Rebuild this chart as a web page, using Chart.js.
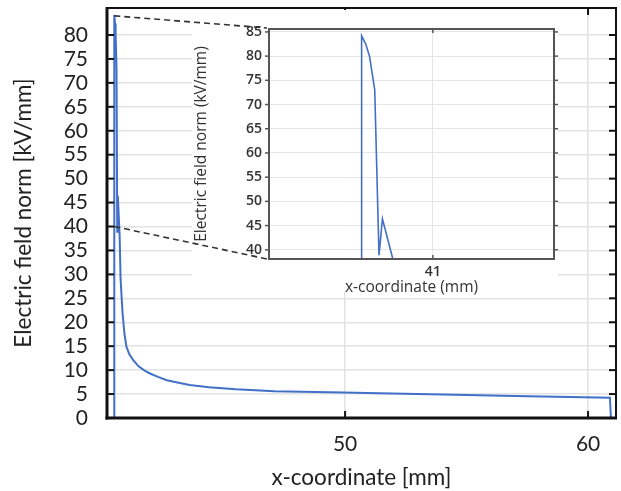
<!DOCTYPE html>
<html>
<head>
<meta charset="utf-8">
<script src="https://cdn.jsdelivr.net/npm/chart.js@4/dist/chart.umd.min.js"></script>
<style>
    html, body { margin: 0; padding: 0; background: #fff; }
    #wrap { position: relative; width: 621px; height: 491px; }
    #wrap canvas { position: absolute; left: 0; top: 0; }
</style>
</head>
<body>
<div id="wrap">
    <canvas id="mainChart" width="621" height="491"></canvas>
    <canvas id="insetChart" width="621" height="491"></canvas>
</div>
<script>
// x-coordinate [mm] and electric field norm [kV/mm]
const xCoord = [40.5, 40.5, 40.53, 40.556, 40.592, 40.622, 40.646, 40.72, 40.76, 40.84, 40.92, 41.0,
    41.12, 41.28, 41.5, 41.75, 41.97, 42.3, 42.66, 43.2, 43.6, 44.4, 45.5, 47.1, 49.9, 51.4,
    54.0, 57.0, 60.9, 60.94];
const fieldNorm = [0, 84.2, 82.4, 79.9, 73.0, 38.9, 46.4, 38.0, 29.0, 21.9, 17.5, 14.9,
    13.3, 12.1, 10.8, 9.9, 9.3, 8.6, 7.9, 7.3, 6.9, 6.4, 6.0, 5.6, 5.35, 5.15,
    4.9, 4.6, 4.25, 0];

const mainXTicks = [50, 60];
const mainYTicks = [0, 5, 10, 15, 20, 25, 30, 35, 40, 45, 50, 55, 60, 65, 70, 75, 80];
const insetXTicks = [41];
const insetYTicks = [40, 45, 50, 55, 60, 65, 70, 75, 80, 85];

// zoom window shown in the inset
const zoomFrom = { x: 40.5, yTop: 84, yBottom: 40 };

const points = xCoord.map((x, i) => ({ x: x, y: fieldNorm[i] }));
const lineBlue = "#4270c8";

function line(ctx, x1, y1, x2, y2) {
    ctx.beginPath();
    ctx.moveTo(x1, y1);
    ctx.lineTo(x2, y2);
    ctx.stroke();
}

const mainFrame = {
    id: "mainFrame",
    afterDraw(chart) {
        const { ctx, chartArea: a, scales: { x, y } } = chart;
        ctx.save();
        ctx.strokeStyle = "#111";
        ctx.lineWidth = 2;
        y.ticks.forEach(t => {
            const py = y.getPixelForValue(t.value);
            line(ctx, a.left, py, a.left + 7, py);
            line(ctx, a.right, py, a.right - 7, py);
        });
        x.ticks.forEach(t => {
            const px = x.getPixelForValue(t.value);
            line(ctx, px, a.bottom, px, a.bottom - 7);
            line(ctx, px, a.top, px, a.top + 7);
        });
        ctx.strokeRect(a.left, a.top, a.right - a.left, a.bottom - a.top);
        ctx.lineWidth = 3;
        line(ctx, a.left, a.top - 1, a.left, a.bottom + 1.5);
        line(ctx, a.left - 1.5, a.bottom, a.right + 1, a.bottom);
        ctx.restore();
    }
};

const mainTickFont = { family: "Lato", size: 21, lineHeight: 0.75 };
const mainTitleFont = { family: "Lato", size: 22.5 };
const clear = "rgba(0,0,0,0)";

const mainChart = new Chart(document.getElementById("mainChart"), {
    type: "line",
    data: {
        datasets: [{
            data: points,
            borderColor: lineBlue,
            borderWidth: 2,
            pointRadius: 0,
            tension: 0
        }]
    },
    options: {
        responsive: false,
        animation: false,
        layout: { padding: { left: 0, top: 8, right: 5, bottom: 0 } },
        plugins: { legend: { display: false }, tooltip: { enabled: false } },
        scales: {
            x: {
                type: "linear",
                min: 40.2,
                max: 61.15,
                afterBuildTicks: s => { s.ticks = mainXTicks.map(v => ({ value: v })); },
                afterFit: s => { s.height = 73; },
                grid: { color: "#e2e2e2", lineWidth: 1.5, drawTicks: true, tickLength: 18, tickColor: clear },
                border: { display: false },
                ticks: { padding: 0, font: mainTickFont, color: "#222", autoSkip: false, maxRotation: 0 },
                title: {
                    display: true,
                    text: "x-coordinate [mm]",
                    font: mainTitleFont,
                    color: "#222",
                    padding: { top: 0, bottom: 0 }
                }
            },
            y: {
                min: 0,
                max: 85.64,
                afterBuildTicks: s => { s.ticks = mainYTicks.map(v => ({ value: v })); },
                afterFit: s => { s.width = 107; },
                grid: { color: "#e2e2e2", lineWidth: 1.5, drawTicks: true, tickLength: 19, tickColor: clear },
                border: { display: false },
                ticks: { padding: 0, font: mainTickFont, color: "#222", autoSkip: false },
                title: {
                    display: true,
                    text: "Electric field norm [kV/mm]",
                    font: mainTitleFont,
                    color: "#222",
                    padding: { top: 10, bottom: 0 }
                }
            }
        }
    },
    plugins: [mainFrame]
});

const insetFrame = {
    id: "insetFrame",
    beforeDraw(chart) {
        const { ctx, chartArea: a } = chart;
        ctx.save();
        ctx.fillStyle = "#fff";
        ctx.fillRect(a.left - 77, 10, a.right - a.left + 81, a.bottom + 33 - 10);
        ctx.restore();
    },
    afterDraw(chart) {
        const { ctx, chartArea: a, scales: { x, y } } = chart;
        ctx.save();
        ctx.strokeStyle = "#555";
        ctx.lineWidth = 1.5;
        y.ticks.forEach(t => {
            const py = y.getPixelForValue(t.value);
            line(ctx, a.left - 4, py, a.left, py);
            line(ctx, a.right, py, a.right + 4, py);
        });
        x.ticks.forEach(t => {
            const px = x.getPixelForValue(t.value);
            line(ctx, px, a.bottom, px, a.bottom - 4);
            line(ctx, px, a.top, px, a.top + 4);
        });
        ctx.lineWidth = 2;
        ctx.strokeRect(a.left, a.top, a.right - a.left, a.bottom - a.top);

        // dashed connectors from the zoomed spot in the main plot
        const mx = mainChart.scales.x.getPixelForValue(zoomFrom.x);
        const myTop = mainChart.scales.y.getPixelForValue(zoomFrom.yTop);
        const myBottom = mainChart.scales.y.getPixelForValue(zoomFrom.yBottom);
        ctx.strokeStyle = "#333";
        ctx.lineWidth = 1.6;
        ctx.setLineDash([6, 4]);
        line(ctx, mx, myTop, a.left - 2, a.top - 1);
        line(ctx, mx, myBottom, a.left - 2, a.bottom);
        ctx.restore();
    }
};

const insetTickFont = { family: "Open Sans", size: 14, weight: "600" };
const insetTitleFont = { family: "Open Sans", size: 15.5 };

new Chart(document.getElementById("insetChart"), {
    type: "line",
    data: {
        datasets: [{
            data: points,
            borderColor: lineBlue,
            borderWidth: 1.6,
            pointRadius: 0,
            tension: 0
        }]
    },
    options: {
        responsive: false,
        animation: false,
        layout: { padding: { left: 180, top: 29, right: 67, bottom: 191 } },
        plugins: { legend: { display: false }, tooltip: { enabled: false } },
        scales: {
            x: {
                type: "linear",
                min: 39.85,
                max: 41.85,
                afterBuildTicks: s => { s.ticks = insetXTicks.map(v => ({ value: v })); },
                afterFit: s => { s.height = 41; },
                grid: { color: "#e6e6e6", lineWidth: 1, drawTicks: false },
                border: { display: false },
                ticks: { padding: 5, font: insetTickFont, color: "#333", autoSkip: false, maxRotation: 0 },
                title: {
                    display: true,
                    text: "x-coordinate (mm)",
                    font: insetTitleFont,
                    color: "#333",
                    padding: { top: 0, bottom: 3 }
                }
            },
            y: {
                min: 38.1,
                max: 85.6,
                afterBuildTicks: s => { s.ticks = insetYTicks.map(v => ({ value: v })); },
                afterFit: s => { s.width = 89; },
                grid: { color: "#e6e6e6", lineWidth: 1, drawTicks: false },
                border: { display: false },
                ticks: { padding: 7, font: insetTickFont, color: "#333", autoSkip: false },
                title: {
                    display: true,
                    text: "Electric field norm (kV/mm)",
                    font: insetTitleFont,
                    color: "#333",
                    padding: { top: 12, bottom: 0 }
                }
            }
        }
    },
    plugins: [insetFrame]
});
</script>
</body>
</html>
